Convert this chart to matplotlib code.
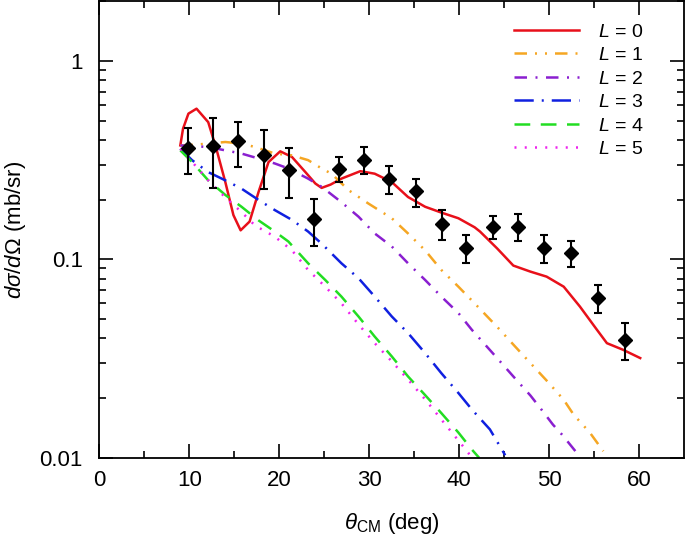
import matplotlib
matplotlib.use('Agg')
import matplotlib.pyplot as plt
from matplotlib.ticker import LogLocator, NullFormatter

plt.rcParams['font.family'] = ['Liberation Sans', 'DejaVu Sans']
plt.rcParams['mathtext.fontset'] = 'custom'
plt.rcParams['mathtext.rm'] = 'Liberation Sans'
plt.rcParams['mathtext.it'] = 'Liberation Sans:italic'

# measured cross section
theta_exp = [9.8, 12.6, 15.4, 18.3, 21.1, 23.8, 26.6, 29.4, 32.2, 35.2, 38.1, 40.7, 43.7, 46.5, 49.4, 52.4, 55.4, 58.4]
xs_exp    = [0.364, 0.373, 0.394, 0.337, 0.283, 0.159, 0.286, 0.318, 0.254, 0.220, 0.151, 0.114, 0.146, 0.146, 0.114, 0.107, 0.0637, 0.0393]
xs_hi     = [0.458, 0.513, 0.493, 0.448, 0.362, 0.202, 0.328, 0.366, 0.294, 0.255, 0.177, 0.132, 0.166, 0.169, 0.132, 0.124, 0.074, 0.048]
xs_lo     = [0.268, 0.230, 0.292, 0.225, 0.203, 0.117, 0.245, 0.268, 0.213, 0.184, 0.125, 0.096, 0.126, 0.124, 0.096, 0.091, 0.0536, 0.0312]

# DWBA curves for each L
th0 = [9.0, 9.3, 9.9, 10.8, 12.1, 13.0, 14.0, 14.9, 15.7, 16.7, 17.7, 18.8, 20.1, 21.4, 22.9, 24.0, 24.7, 25.7, 26.9, 29.0, 30.6, 32.5, 34.3, 36.2, 38.0, 39.9, 41.7, 42.3, 44.2, 46.0, 47.9, 49.7, 51.6, 53.4, 55.3, 56.4, 58.2, 60.1]
L0  = [0.375, 0.455, 0.542, 0.574, 0.491, 0.361, 0.245, 0.167, 0.140, 0.155, 0.219, 0.309, 0.350, 0.328, 0.275, 0.241, 0.229, 0.238, 0.255, 0.278, 0.270, 0.245, 0.206, 0.184, 0.172, 0.161, 0.145, 0.138, 0.1135, 0.093, 0.0867, 0.0818, 0.0728, 0.0578, 0.0441, 0.0378, 0.035, 0.0318]

th1 = [9.0, 10.6, 12.1, 14.0, 15.8, 17.3, 19.5, 21.4, 23.2, 24.7, 25.8, 27.7, 29.9, 32.5, 34.3, 36.2, 38.0, 39.9, 41.7, 44.2, 46.0, 47.9, 49.7, 51.6, 52.7, 54.5, 56.0]
L1  = [0.375, 0.378, 0.383, 0.39, 0.383, 0.368, 0.341, 0.334, 0.316, 0.287, 0.270, 0.223, 0.191, 0.161, 0.135, 0.111, 0.0884, 0.0728, 0.060, 0.0457, 0.0372, 0.030, 0.0245, 0.0196, 0.0165, 0.0134, 0.0108]

th2 = [9.0, 12.1, 14.0, 15.8, 17.7, 19.5, 21.0, 23.2, 24.7, 26.9, 28.8, 30.6, 32.5, 34.3, 36.2, 38.0, 39.9, 41.4, 44.2, 46.0, 47.9, 49.0, 50.4, 51.4, 52.9]
L2  = [0.375, 0.368, 0.354, 0.341, 0.322, 0.304, 0.287, 0.255, 0.232, 0.194, 0.164, 0.135, 0.116, 0.0955, 0.0787, 0.0649, 0.0536, 0.0441, 0.0318, 0.0257, 0.0206, 0.0178, 0.0147, 0.0131, 0.0108]

th3 = [9.0, 10.3, 12.1, 14.0, 15.8, 17.7, 19.5, 21.4, 23.2, 24.7, 26.9, 28.8, 30.6, 32.5, 34.3, 36.2, 38.0, 39.9, 41.4, 43.4, 45.1]
L3  = [0.361, 0.316, 0.275, 0.250, 0.227, 0.199, 0.177, 0.158, 0.138, 0.120, 0.0955, 0.0803, 0.0649, 0.0515, 0.0425, 0.0337, 0.0267, 0.0212, 0.0175, 0.0139, 0.0103]

th4 = [9.0, 10.3, 12.1, 14.0, 15.8, 17.7, 19.5, 21.0, 23.2, 25.1, 26.9, 28.8, 30.6, 32.5, 34.3, 36.2, 38.0, 39.9, 41.4, 42.2]
L4  = [0.354, 0.309, 0.25, 0.211, 0.184, 0.157, 0.138, 0.123, 0.0955, 0.0787, 0.0649, 0.0515, 0.0408, 0.0324, 0.0257, 0.0207, 0.0168, 0.0134, 0.0110, 0.0100]

th5 = [9.0, 10.3, 12.1, 14.0, 15.8, 17.3, 19.5, 21.4, 23.2, 25.1, 26.9, 28.8, 30.6, 32.5, 34.3, 36.2, 38.0, 41.0, 41.3]
L5  = [0.36, 0.31, 0.25, 0.205, 0.173, 0.148, 0.130, 0.111, 0.0884, 0.0728, 0.060, 0.047, 0.0378, 0.0306, 0.0248, 0.0197, 0.0156, 0.0106, 0.0100]

fig = plt.figure(figsize=(6.85, 5.45), dpi=100)
ax = fig.add_axes([0.145, 0.16, 0.854, 0.838])

lw = 1.8
ax.plot(th0, L0, color='#e8101a', lw=lw, label='$L$ = 0')
ax.plot(th1, L1, color='#f5a623', lw=lw, linestyle=(0, (5, 3.2, 0.8, 3.2, 0.8, 3.2)), label='$L$ = 1')
ax.plot(th2, L2, color='#8a1fd0', lw=lw, linestyle=(0, (5, 3.4, 0.8, 3.4)), label='$L$ = 2')
ax.plot(th3, L3, color='#1020e0', lw=lw, linestyle=(0, (7.7, 3.2, 0.8, 3.2)), label='$L$ = 3')
ax.plot(th4, L4, color='#22dd22', lw=lw, linestyle=(0, (6.3, 4.2)), label='$L$ = 4')
ax.plot(th5, L5, color='#ee22ee', lw=lw, linestyle=(0, (0.8, 3.3)), label='$L$ = 5')

yerr = [[y - lo for y, lo in zip(xs_exp, xs_lo)], [hi - y for y, hi in zip(xs_exp, xs_hi)]]
ax.errorbar(theta_exp, xs_exp, yerr=yerr, fmt='D', color='black', ms=7.5,
            elinewidth=1.5, capsize=3, capthick=1.5, zorder=5)

ax.set_yscale('log')
ax.set_xlim(0, 65)
ax.set_ylim(0.01, 2.0)
ax.set_xticks([0, 10, 20, 30, 40, 50, 60])
ax.set_xticks([5, 15, 25, 35, 45, 55], minor=True)
ax.set_yticks([0.01, 0.1, 1])
ax.set_yticklabels(['0.01', '0.1', '1'])
ax.yaxis.set_minor_locator(LogLocator(base=10, subs=[2, 3, 4, 5, 6, 7, 8, 9]))
ax.yaxis.set_minor_formatter(NullFormatter())

ax.tick_params(which='both', direction='in', top=True, right=True, width=1.2, labelsize=16)
ax.tick_params(which='major', length=10)
ax.tick_params(which='minor', length=5)
ax.tick_params(axis='x', pad=9)
ax.tick_params(axis='y', pad=12)
for s in ax.spines.values():
    s.set_linewidth(1.3)

ax.set_xlabel(r'$\theta_{\rm CM}$ (deg)', fontsize=16, labelpad=14)
ax.set_ylabel(r'$d\sigma/d\Omega$ (mb/sr)', fontsize=16, labelpad=8)

ax.legend(loc='upper right', bbox_to_anchor=(0.96, 0.99), frameon=False, fontsize=14,
          handlelength=3.3, labelspacing=0.3, handletextpad=1.0)

fig.savefig('out.png', dpi=100)
